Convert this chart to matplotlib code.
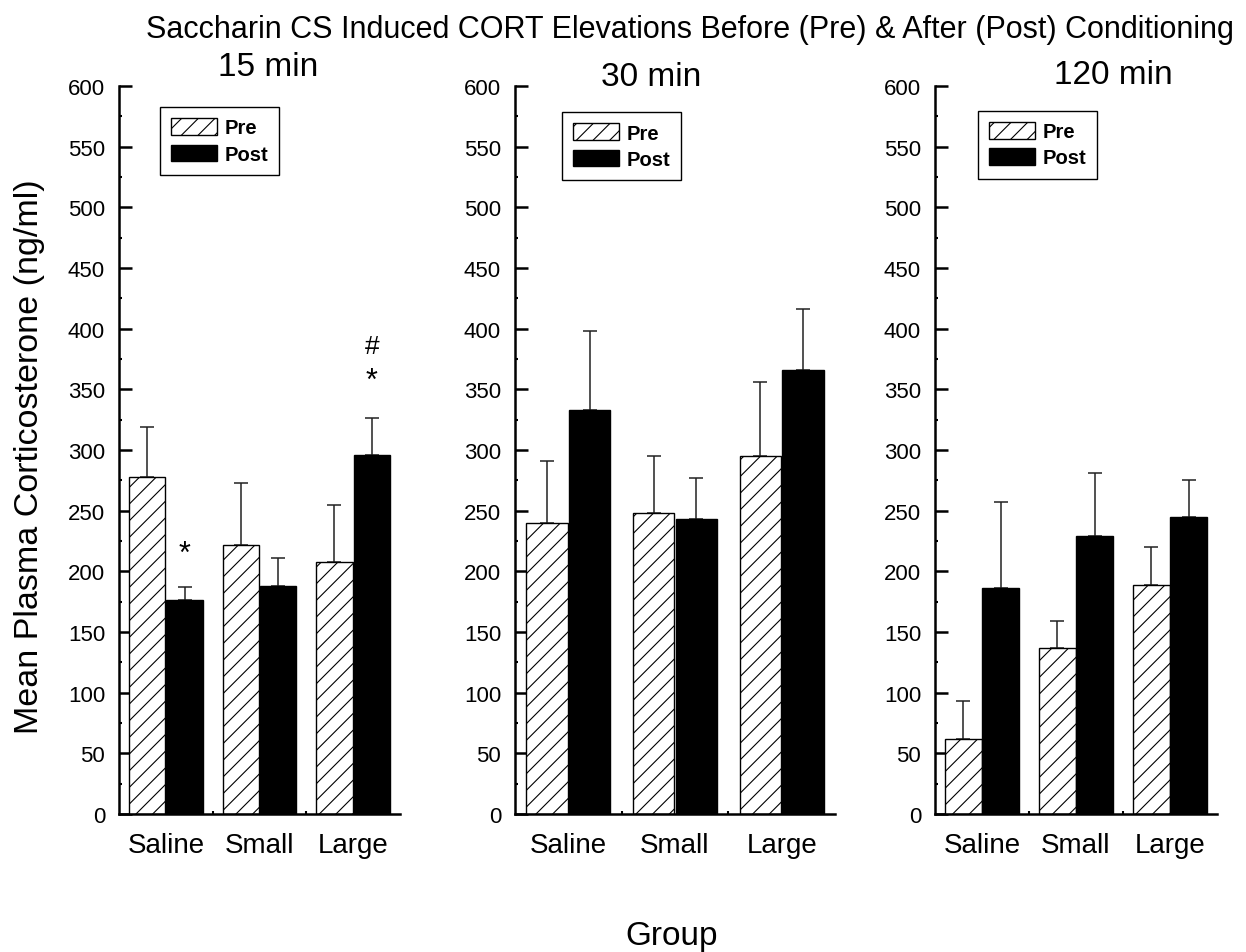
import matplotlib
matplotlib.use("Agg")
import matplotlib.pyplot as plt
from matplotlib.ticker import MultipleLocator, FixedLocator

plt.rcParams['font.family'] = ['Liberation Sans', 'DejaVu Sans']
plt.rcParams['hatch.linewidth'] = 0.8

groups = ["Saline", "Small", "Large"]
times = ["15 min", "30 min", "120 min"]

# mean CORT (ng/ml) and SEM, pre / post conditioning
pre_15 = [278, 222, 208]
pre_15_err = [41, 51, 47]
post_15 = [176, 188, 296]
post_15_err = [11, 23, 30]

pre_30 = [240, 248, 295]
pre_30_err = [51, 47, 61]
post_30 = [333, 243, 366]
post_30_err = [65, 34, 50]

pre_120 = [62, 137, 189]
pre_120_err = [31, 22, 31]
post_120 = [186, 229, 245]
post_120_err = [71, 52, 30]

pre_all = [pre_15, pre_30, pre_120]
pre_err_all = [pre_15_err, pre_30_err, pre_120_err]
post_all = [post_15, post_30, post_120]
post_err_all = [post_15_err, post_30_err, post_120_err]

W, H = 1246, 953
fig = plt.figure(figsize=(W / 100, H / 100), dpi=100)

# axes boxes in pixels: left, right
boxes = [(119, 400), (515, 835), (935, 1217)]
bottom_px, top_px = 815, 87
legend_pos = [(0.146, 0.971), (0.147, 0.964), (0.152, 0.966)]
title_pos = [(268, 68), (651, 77), (1113, 76)]

x = [1, 2, 3]
bw = 0.39
for i in range(3):
    l, r = boxes[i]
    ax = fig.add_axes([l / W, 1 - bottom_px / H, (r - l) / W, (bottom_px - top_px) / H])
    xp = [v - 0.2 for v in x]
    xq = [v + 0.2 for v in x]
    ax.bar(xp, pre_all[i], bw, color='white', edgecolor='black', hatch='//',
           linewidth=1.0, label='Pre', zorder=2)
    ax.bar(xq, post_all[i], bw, color='black', edgecolor='black',
           linewidth=1.0, label='Post', zorder=2)
    ax.errorbar(xp, pre_all[i], yerr=[[0] * 3, pre_err_all[i]], fmt='none',
                ecolor='#222222', elinewidth=1.1, capsize=4.8, capthick=1.1, zorder=1)
    ax.errorbar(xq, post_all[i], yerr=[[0] * 3, post_err_all[i]], fmt='none',
                ecolor='#222222', elinewidth=1.1, capsize=4.8, capthick=1.1, zorder=1)

    ax.set_xlim(0.5, 3.5)
    ax.set_ylim(0, 600)
    for s in ['top', 'right']:
        ax.spines[s].set_visible(False)
    for s in ['left', 'bottom']:
        ax.spines[s].set_linewidth(1.8)
    ax.yaxis.set_major_locator(MultipleLocator(50))
    ax.yaxis.set_minor_locator(MultipleLocator(25))
    ax.tick_params(axis='y', which='major', direction='in', length=9, width=1.8,
                   labelsize=16, pad=10)
    ax.tick_params(axis='y', which='minor', direction='in', length=2.5, width=1.5)
    ax.set_xticks(x)
    ax.set_xticklabels(groups, fontsize=20)
    ax.xaxis.set_minor_locator(FixedLocator([1.5, 2.5]))
    ax.tick_params(axis='x', which='major', length=0, pad=13)
    ax.tick_params(axis='x', which='minor', direction='in', length=2.5, width=1.5)

    leg = ax.legend(loc='upper left', bbox_to_anchor=legend_pos[i], fancybox=False,
                    edgecolor='black', framealpha=1, prop={'weight': 'bold', 'size': 14.5},
                    handlelength=2.3, handleheight=0.9, handletextpad=0.35,
                    borderpad=0.55, labelspacing=0.35, borderaxespad=0)
    leg.get_frame().set_linewidth(1.0)

    tx, ty = title_pos[i]
    fig.text(tx / W, 1 - ty / H, times[i], fontsize=24, ha='center', va='center')

    if i == 0:
        ax.text(xq[0], 214, '*', fontsize=22, ha='center', va='center')
        ax.text(xq[2], 357, '*', fontsize=22, ha='center', va='center')
        ax.text(xq[2], 386, '#', fontsize=19, ha='center', va='center')

fig.text(690 / W, 1 - 30 / H,
         "Saccharin CS Induced CORT Elevations Before (Pre) & After (Post) Conditioning",
         fontsize=22, ha='center', va='center')
fig.text(30 / W, 1 - 457 / H, "Mean Plasma Corticosterone (ng/ml)", fontsize=24.5,
         rotation=90, ha='center', va='center')
fig.text(672 / W, 1 - 937 / H, "Group", fontsize=24, ha='center', va='center')

fig.savefig("out.png", dpi=100)
